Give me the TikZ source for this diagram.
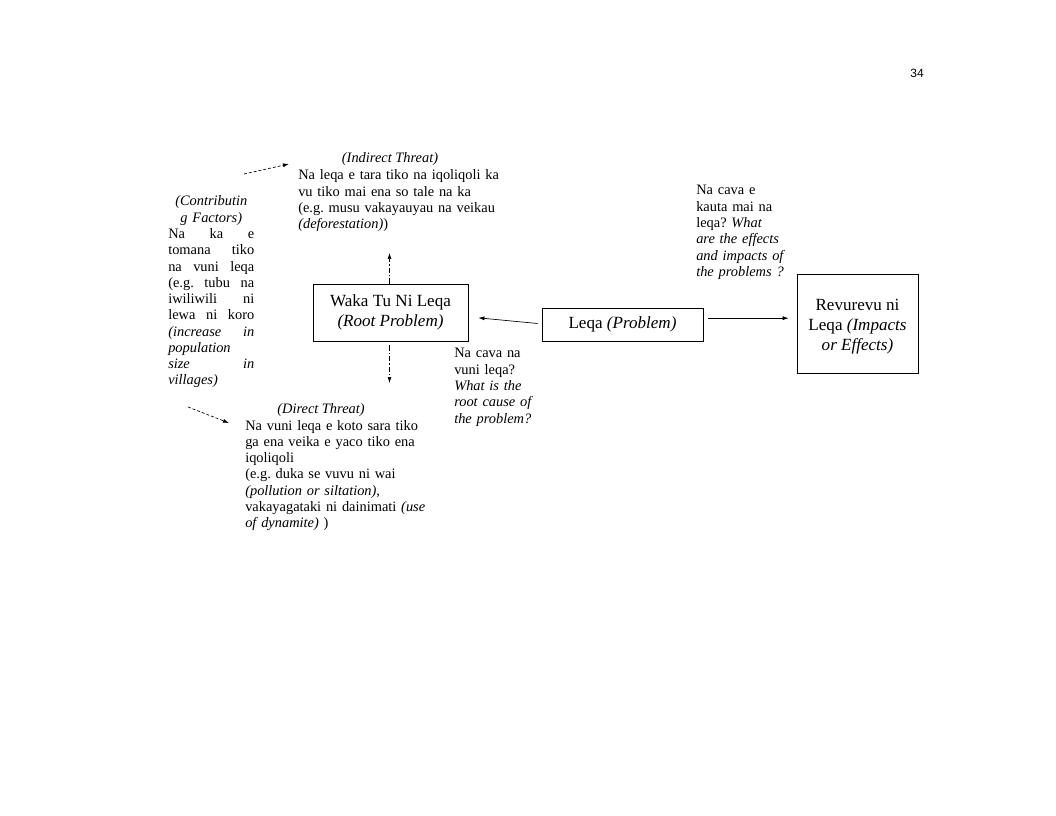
\documentclass[tikz,border=0pt]{standalone}
\usepackage{fontspec}
\setmainfont{Liberation Serif}
\newfontfamily\pagefont{Liberation Sans}
\usetikzlibrary{arrows.meta,calc}
\frenchspacing
\newcommand{\jline}[1]{\leavevmode\hbox to 64.5pt{#1}}
\begin{document}
\begin{tikzpicture}[x=0.75pt,y=-0.75pt,
  body/.style={font=\fontsize{10.8}{12.2}\selectfont\frenchspacing, inner sep=0pt, align=left, anchor=base west},
  ttl/.style={font=\fontsize{10.8}{12.2}\selectfont\itshape, inner sep=0pt, anchor=base},
  boxtxt/.style={draw, line width=0.6pt, font=\fontsize{12.8}{15}\selectfont, align=center, inner sep=0pt},
  boxlbl/.style={font=\fontsize{12.8}{15}\selectfont, align=center, inner sep=0pt},
  arr/.style={-{Latex[length=4.5pt,width=3pt]}, line width=0.5pt},
  darr/.style={arr, dash pattern=on 2.2pt off 1.5pt},
  varr/.style={arr, dash pattern=on 4pt off 1.5pt on 1pt off 1.5pt},
]
\useasboundingbox[fill=white] (0,0) rectangle (1056,816);

% page number
\node[font=\pagefont\fontsize{9}{10}\selectfont, inner sep=0pt, anchor=base] (pagenum) at (917,78) {34};

% indirect threat
\node[ttl] (indtitle) at (390,163) {(Indirect Threat)};
\node[body, text width=157.5pt] (indirect) at (298,180)
  {Na leqa e tara tiko na iqoliqoli ka\\
   vu tiko mai ena so tale na ka\\
   (e.g. musu vakayauyau na veikau\\
   \textit{(deforestation)})};

% contributing factors
\node[body, text width=64.5pt] (contrib) at (168,206)
  {\jline{\hfil\textit{(Contributin}\hfil}\\
   \jline{\hfil\textit{g Factors)}\hfil}\\
   \jline{Na\hfill ka\hfill e}\\
   \jline{tomana\hfill tiko}\\
   \jline{na\hfill vuni\hfill leqa}\\
   \jline{(e.g.\hfill tubu\hfill na}\\
   \jline{iwiliwili\hfill ni}\\
   \jline{lewa\hfill ni\hfill koro}\\
   \jline{\textit{(increase}\hfill\textit{in}}\\
   \textit{population}\\
   \jline{\textit{size}\hfill\textit{in}}\\
   \textit{villages)}};

% boxes
\node[boxtxt, minimum width=116.25pt, minimum height=42.75pt] (root) at (390.5,312.5)
  {Waka Tu Ni Leqa\\ \textit{(Root Problem)}};
\node[boxtxt, minimum width=120.75pt, minimum height=24.75pt] (leqa) at (622.5,324.5)
  {Leqa \textit{(Problem)}};
\node[boxtxt, minimum width=90.75pt, minimum height=74.25pt] (rev) at (857.5,323.5) {};
\node[boxlbl] (revtxt) at ([yshift=-2.2pt]rev.center)
  {Revurevu ni\\ Leqa \textit{(Impacts}\\ \textit{or Effects)}};

% question texts
\node[body, text width=75pt] (q1) at (454,358)
  {Na cava na\\ vuni leqa?\\ \textit{What is the}\\ \textit{root cause of}\\ \textit{the problem?}};
\node[body, text width=75pt] (q2) at (696,195)
  {Na cava e\\ kauta mai na\\ leqa? \textit{What}\\ \textit{are the effects}\\ \textit{and impacts of}\\ \textit{the problems ?}};

% direct threat
\node[ttl] (dirtitle) at (321,413) {(Direct Threat)};
\node[body, text width=150pt] (direct) at (245,430)
  {Na vuni leqa e koto sara tiko\\
   ga ena veika e yaco tiko ena\\
   iqoliqoli\\
   (e.g. duka se vuvu ni wai\\
   \textit{(pollution or siltation)},\\
   vakayagataki ni dainimati \textit{(use}\\
   \textit{of dynamite)} )};

% free-end coordinates
\coordinate (indfrom) at (244,174);
\coordinate (indto) at (289,164);
\coordinate (dirfrom) at (188,407);
\coordinate (dirto) at (229,423);
\coordinate (uptip) at (389.5,253);
\coordinate (downtip) at (389.5,383);

% connectors
\draw[arr] ([xshift=-3pt,yshift=0.75pt]leqa.west) -- ([xshift=7.5pt,yshift=-4pt]root.east);
\draw[arr] ([xshift=3.75pt,yshift=4.75pt]leqa.east) -- ([xshift=-6pt,yshift=4pt]rev.west);
\draw[varr] ([xshift=-0.75pt]root.north) -- (uptip);
\draw[varr] ([xshift=-0.75pt,yshift=-3pt]root.south) -- (downtip);
\draw[darr] (indfrom) -- (indto);
\draw[darr] (dirfrom) -- (dirto);
\end{tikzpicture}
\end{document}
